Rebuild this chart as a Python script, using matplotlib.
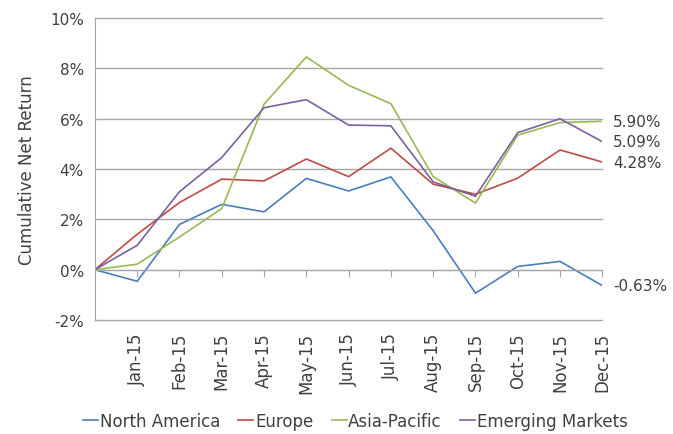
import matplotlib
matplotlib.use('Agg')
import matplotlib.pyplot as plt

months = ['', 'Jan-15', 'Feb-15', 'Mar-15', 'Apr-15', 'May-15', 'Jun-15',
          'Jul-15', 'Aug-15', 'Sep-15', 'Oct-15', 'Nov-15', 'Dec-15']

north_america = [0.0, -0.46, 1.80, 2.60, 2.30, 3.63, 3.13, 3.69, 1.55, -0.93, 0.13, 0.33, -0.63]
europe = [0.0, 1.41, 2.67, 3.60, 3.53, 4.40, 3.70, 4.83, 3.40, 3.00, 3.64, 4.76, 4.28]
asia_pacific = [0.0, 0.22, 1.30, 2.43, 6.58, 8.46, 7.33, 6.60, 3.70, 2.65, 5.35, 5.85, 5.90]
emerging = [0.0, 0.97, 3.10, 4.46, 6.44, 6.76, 5.75, 5.72, 3.49, 2.92, 5.45, 6.00, 5.09]

series = [
    ('North America', north_america, '#4A7EBB'),
    ('Europe', europe, '#BE4B48'),
    ('Asia-Pacific', asia_pacific, '#98B954'),
    ('Emerging Markets', emerging, '#7D60A0'),
]

text_col = '#404040'
grid_col = '#A6A6A6'

fig = plt.figure(figsize=(6.73, 4.35), dpi=100)
ax = fig.add_axes([0.141, 0.262, 0.754, 0.694])

x = list(range(len(months)))
for name, vals, col in series:
    ax.plot(x, vals, color=col, lw=1.2, label=name)
    ax.text(12.25, vals[-1], f'{vals[-1]:.2f}%', color=text_col, fontsize=11,
            va='center', ha='left')

ax.set_xlim(0, 12)
ax.set_ylim(-2, 10)
ax.set_yticks(range(-2, 11, 2))
ax.set_yticklabels([f'{v}%' for v in range(-2, 11, 2)], color=text_col, fontsize=11)
ax.yaxis.grid(True, color=grid_col, lw=1)
for gl in ax.get_ygridlines():
    gl.set_clip_on(False)
ax.set_axisbelow(True)
ax.tick_params(axis='y', length=0, pad=8)

for s in ['top', 'right']:
    ax.spines[s].set_visible(False)
ax.spines['left'].set_color(grid_col)
ax.spines['bottom'].set_position(('data', 0))
ax.spines['bottom'].set_color(grid_col)

ax.set_xticks(x[1:])
ax.set_xticklabels([])
ax.tick_params(axis='x', length=5, color=grid_col, direction='out')
for i, m in enumerate(months):
    if m:
        ax.text(i, -0.04, m, transform=ax.get_xaxis_transform(), rotation=90,
                ha='center', va='top', color=text_col, fontsize=12)

ax.set_ylabel('Cumulative Net Return', color=text_col, fontsize=12, labelpad=10)

fig.legend(loc='center', bbox_to_anchor=(0.528, 0.03), ncol=4, frameon=False,
           fontsize=12, handlelength=0.9, handletextpad=0.1, columnspacing=1.1,
           labelcolor=text_col)

fig.savefig('out.png', dpi=100)
